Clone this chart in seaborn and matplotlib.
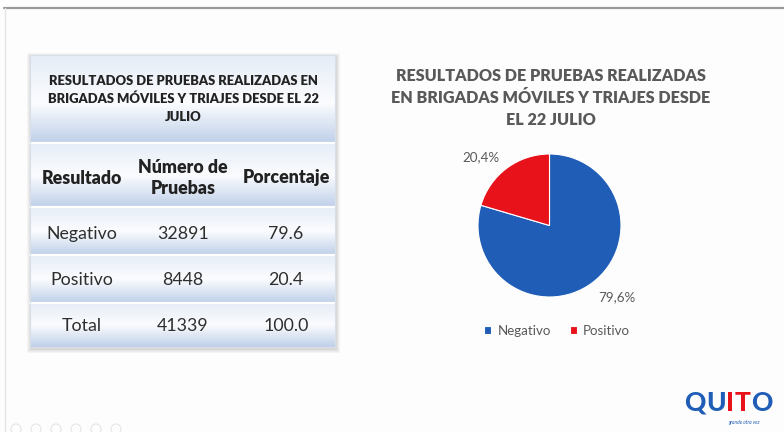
import numpy as np
import matplotlib
matplotlib.use("Agg")
import matplotlib.pyplot as plt
from matplotlib.patches import Rectangle
import seaborn as sns

# ---------------- data ----------------
titulo = "RESULTADOS DE PRUEBAS REALIZADAS EN\nBRIGADAS MÓVILES Y TRIAJES DESDE EL 22\nJULIO"
titulo_pie = "RESULTADOS DE PRUEBAS REALIZADAS\nEN BRIGADAS MÓVILES Y TRIAJES DESDE\nEL 22 JULIO"
encabezados = ["Resultado", "Número de\nPruebas", "Porcentaje"]
resultados = ["Negativo", "Positivo"]
pruebas = [32891, 8448]
porcentaje = [79.6, 20.4]
total_label = "Total"
total_pruebas = 41339
total_pct = 100.0

sns.set_theme(style="white")
plt.rcParams["font.family"] = ["Lato", "DejaVu Sans"]

colores = sns.color_palette(["#1F5DB7", "#E8121B"])

W, H = 784, 432
fig = plt.figure(figsize=(W / 100, H / 100), dpi=100)
fig.patch.set_facecolor("#fdfdfd")
ax = fig.add_axes([0, 0, 1, 1])
ax.set_axis_off()
ax.set_xlim(0, W)
ax.set_ylim(H, 0)

# slide frame
ax.plot([4, W], [8, 8], color="#9a9a9a", lw=1.6)
ax.plot([5, 5], [8, H], color="#e4e4e4", lw=1)

# ---------------- table ----------------
L, R = 30, 335
bounds = [55, 143, 207, 255, 303, 347]

# shadow
for i, a in enumerate([0.05, 0.05, 0.06, 0.08]):
    off = 4 - i
    ax.add_patch(Rectangle((L - off + 1, bounds[0] - off + 2), R - L + 2 * off, bounds[-1] - bounds[0] + 2 * off,
                           facecolor="#606060", edgecolor="none", alpha=a, zorder=1))

def grad(top_c, mid_c, bot_c, n=100, midpos=0.45):
    t = np.linspace(0, 1, n)
    c0, c1, c2 = (np.array(matplotlib.colors.to_rgb(c)) for c in (top_c, mid_c, bot_c))
    out = np.zeros((n, 1, 3))
    for k, v in enumerate(t):
        if v < midpos:
            f = v / midpos
            out[k, 0] = c0 * (1 - f) + c1 * f
        else:
            f = (v - midpos) / (1 - midpos)
            out[k, 0] = c1 * (1 - f) + c2 * f
    return out

for i in range(len(bounds) - 1):
    g = grad("#e6edf7", "#fbfcfe", "#bfd0e9", midpos=0.5 if i else 0.55)
    ax.imshow(g, extent=(L, R, bounds[i + 1], bounds[i]), aspect="auto", zorder=2,
              interpolation="bilinear")
    if i > 0:
        ax.plot([L, R], [bounds[i], bounds[i]], color="white", lw=1.6, zorder=3)

ax.add_patch(Rectangle((L, bounds[0]), R - L, bounds[-1] - bounds[0], facecolor="none",
                       edgecolor="#d9dfe8", lw=0.8, zorder=4))

txt = "#222222"
ax.text((L + R) / 2 + 1, 99, titulo, ha="center", va="center", fontsize=9.4, fontweight="heavy",
        color=txt, linespacing=1.55, zorder=5)

col_x = [82, 183, 286]
hy = 178
for x, h in zip(col_x, encabezados):
    ax.text(x, hy, h, ha="center", va="center", fontsize=12.8, fontweight="heavy", color=txt,
            linespacing=1.3, zorder=5)

row_y = [234, 280, 326]
filas = [[r, f"{p}", f"{c:.1f}"] for r, p, c in zip(resultados, pruebas, porcentaje)]
filas.append([total_label, f"{total_pruebas}", f"{total_pct:.1f}"])
for y, fila in zip(row_y, filas):
    for x, v in zip(col_x, fila):
        ax.text(x, y, v, ha="center", va="center", fontsize=12.8, color="#2e2e2e", zorder=5)

# ---------------- pie ----------------
cx, cy, rad = 549.5, 225.5, 71.5
size = rad * 2.5
pax = fig.add_axes([(cx - size / 2) / W, (H - cy - size / 2) / H, size / W, size / H])
wedges, _ = pax.pie(pruebas, colors=colores, startangle=90, counterclock=False,
                    wedgeprops=dict(edgecolor="white", linewidth=0.8))
pax.set_xlim(-1.25, 1.25)
pax.set_ylim(-1.25, 1.25)

ax.text(551, 98, titulo_pie, ha="center", va="center", fontsize=11.6, fontweight="heavy",
        color="#595959", linespacing=1.45)

lab_pos = [(617, 297), (481, 157)]
for (x, y), c in zip(lab_pos, porcentaje):
    ax.text(x, y, f"{c:.1f}%".replace(".", ","), ha="center", va="center", fontsize=9.6,
            color="#595959")

leg = fig.legend(wedges, resultados, loc="center", bbox_to_anchor=(557 / W, 1 - 331 / H),
                 ncol=2, frameon=False, fontsize=9.6, handlelength=0.55, handleheight=0.55,
                 handletextpad=0.45, columnspacing=1.4, labelcolor="#595959")

# ---------------- logo ----------------
renderer = fig.canvas.get_renderer()
logo = [("Q", "#1F5DB7"), ("U", "#1F5DB7"), ("I", "#E8121B"), ("T", "#E8121B"), ("O", "#1F5DB7")]
x = 684
inv = ax.transData.inverted()
for ch, c in logo:
    t = ax.text(x, 403, ch, ha="left", va="center", fontsize=19, fontweight="black", color=c)
    bb = t.get_window_extent(renderer)
    x0, _ = inv.transform((bb.x0, bb.y0))
    x1, _ = inv.transform((bb.x1, bb.y0))
    x += (x1 - x0) + 0.5
ax.text(744, 422, "grande otra vez", ha="center", va="center", fontsize=3.5, style="italic",
        color="#1F5DB7")

# faint slide controls bottom-left
for i in range(6):
    ax.add_patch(matplotlib.patches.Circle((16 + 20 * i, 429), 5, facecolor="none",
                                           edgecolor="#e6e6e6", lw=0.8))

ax.set_xlim(0, W)
ax.set_ylim(H, 0)
fig.savefig("out.png", dpi=100, facecolor=fig.get_facecolor())
